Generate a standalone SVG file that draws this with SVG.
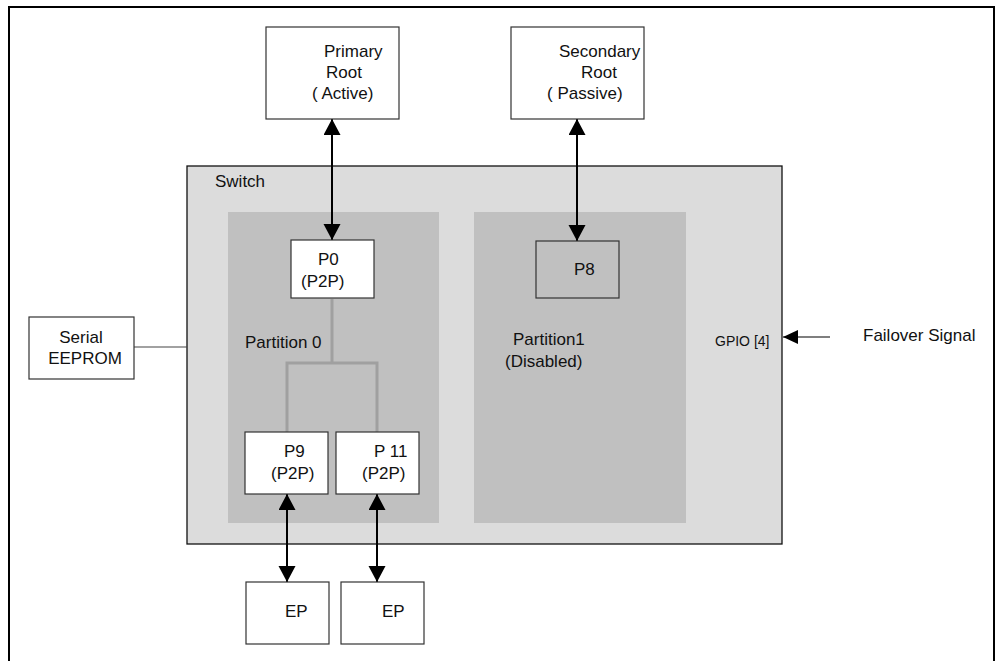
<svg xmlns="http://www.w3.org/2000/svg" width="998" height="661" viewBox="0 0 998 661">
  <defs>
    <style>
      text { font-family: "Liberation Sans", Arial, sans-serif; font-size: 17px; fill: #111; }
      .box { fill: #fff; stroke: #333; stroke-width: 1.2; }
      .gbox { fill: #c0c0c0; stroke: #333; stroke-width: 1.2; }
      .switch { fill: #dcdcdc; stroke: #111; stroke-width: 1.3; }
      .part { fill: #c0c0c0; stroke: none; }
      .arrow { stroke: #000; stroke-width: 2; fill: none; marker-start: url(#ah); marker-end: url(#ah); }
      .tree { stroke: #a0a0a0; stroke-width: 3; fill: none; }
      .wire { stroke: #444; stroke-width: 1.2; fill: none; }
    </style>
    <marker id="ah" markerUnits="userSpaceOnUse" markerWidth="17" markerHeight="18" refX="16" refY="8.5" orient="auto-start-reverse">
      <path d="M0,0 L16,8.5 L0,17 z" fill="#000"/>
    </marker>
    <marker id="ah2" markerUnits="userSpaceOnUse" markerWidth="16" markerHeight="15" refX="15" refY="7" orient="auto">
      <path d="M0,0 L15,7 L0,14 z" fill="#000"/>
    </marker>
  </defs>

  <rect x="0" y="0" width="998" height="661" fill="#fff"/>
  <path d="M9,665 V7 H994 V665" fill="none" stroke="#000" stroke-width="2"/>

  <g id="switch">
    <rect class="switch" x="187" y="166" width="595" height="378"/>
    <text x="215" y="187">Switch</text>
  </g>
  <g id="partition0">
    <rect class="part" x="228" y="212" width="211" height="311"/>
    <text x="245" y="348">Partition 0</text>
  </g>
  <g id="partition1">
    <rect class="part" x="474" y="212" width="212" height="311"/>
    <text x="513" y="345">Partition1</text>
    <text x="505" y="367">(Disabled)</text>
  </g>

  <g id="connectors">
    <line class="arrow" x1="332" y1="119" x2="332" y2="240"/>
    <line class="arrow" x1="577" y1="119" x2="577" y2="241"/>
    <line class="arrow" x1="287" y1="494" x2="287" y2="582"/>
    <line class="arrow" x1="377" y1="494" x2="377" y2="582"/>
    <path class="tree" d="M332,299 V363 M287,432 V363 H377 V432"/>
    <line class="wire" x1="134" y1="347" x2="187" y2="347"/>
    <line x1="830" y1="337" x2="783" y2="337" stroke="#000" stroke-width="1.2" marker-end="url(#ah2)"/>
  </g>

  <g id="primary-root">
    <rect class="box" x="266" y="27" width="133" height="92"/>
    <text x="324" y="57">Primary</text>
    <text x="344" y="78" text-anchor="middle">Root</text>
    <text x="312" y="99">( Active)</text>
  </g>
  <g id="secondary-root">
    <rect class="box" x="511" y="27" width="133" height="92"/>
    <text x="559" y="57">Secondary</text>
    <text x="599" y="78" text-anchor="middle">Root</text>
    <text x="547" y="99">(  Passive)</text>
  </g>
  <g id="p0">
    <rect class="box" x="291" y="240" width="83" height="58"/>
    <text x="318" y="265">P0</text>
    <text x="301" y="287">(P2P)</text>
  </g>
  <g id="p8">
    <rect class="gbox" x="536" y="241" width="83" height="57"/>
    <text x="574" y="275">P8</text>
  </g>
  <g id="p9">
    <rect class="box" x="245" y="432" width="83" height="62"/>
    <text x="284" y="457">P9</text>
    <text x="271" y="479">(P2P)</text>
  </g>
  <g id="p11">
    <rect class="box" x="336" y="432" width="83" height="62"/>
    <text x="374" y="457">P 11</text>
    <text x="362" y="479">(P2P)</text>
  </g>
  <g id="ep1">
    <rect class="box" x="246" y="582" width="83" height="62"/>
    <text x="285" y="617">EP</text>
  </g>
  <g id="ep2">
    <rect class="box" x="341" y="582" width="83" height="62"/>
    <text x="382" y="617">EP</text>
  </g>
  <g id="serial-eeprom">
    <rect class="box" x="29" y="317" width="105" height="62"/>
    <text x="81" y="343" text-anchor="middle">Serial</text>
    <text x="85" y="364" text-anchor="middle">EEPROM</text>
  </g>
  <g id="gpio">
    <text x="715" y="346" style="font-size:14px">GPIO [4]</text>
  </g>
  <g id="failover-signal">
    <text x="863" y="341">Failover Signal</text>
  </g>
</svg>
